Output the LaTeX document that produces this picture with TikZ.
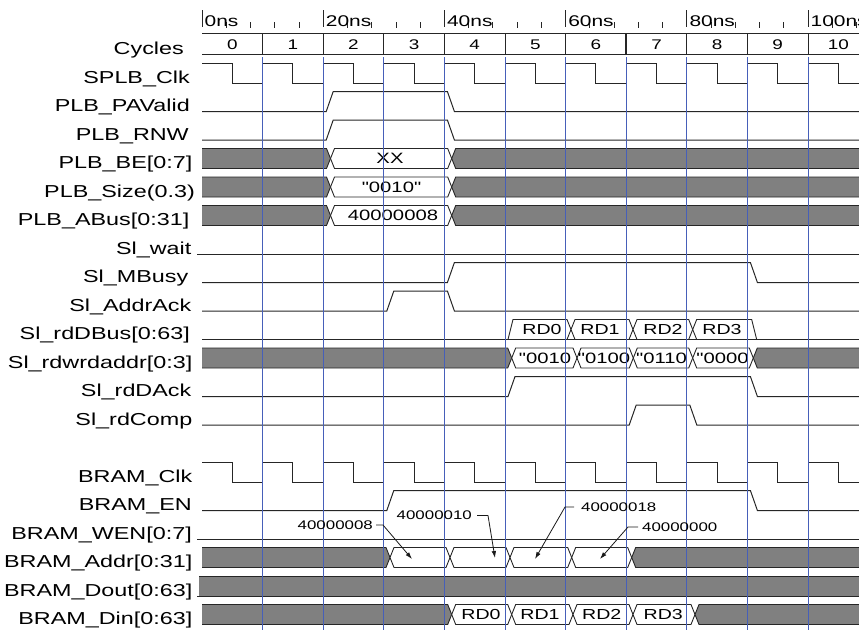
\documentclass[tikz,border=0pt]{standalone}
\usepackage{fontspec}
\setmainfont{Liberation Sans}
\usepackage{graphicx}
\usetikzlibrary{arrows.meta}
\newcommand\wide[1]{\scalebox{1.35}[1]{#1}}
\newcommand\qq{\XeTeXglyph\XeTeXcharglyph"22\relax}
\def\Tx#1{(202+60.6*(#1))}
\def\Ylo#1{(83+28.5*(#1))}
\def\Yhi#1{(63+28.5*(#1))}
\def\Ymi#1{(73+28.5*(#1))}
\definecolor{gridblue}{RGB}{70,95,185}
\definecolor{busgray}{RGB}{128,128,128}
\tikzset{
 sig/.style={line width=1pt, draw=black!85, line join=miter},
 bus/.style={line width=0.9pt, draw=black!85, fill=white},
 gbus/.style={line width=0.9pt, draw=black!85, fill=busgray},
 lbl/.style={anchor=base east, inner sep=0pt, font=\fontsize{17.3}{20}\selectfont},
 btxt/.style={anchor=base, inner sep=0pt, font=\fontsize{15}{18}\selectfont},
 rdtxt/.style={anchor=base, inner sep=0pt, font=\fontsize{14.5}{17}\selectfont},
 cyc/.style={anchor=center, inner sep=0pt, font=\fontsize{14}{16}\selectfont},
 tlab/.style={anchor=base west, inner sep=0pt, font=\fontsize{15.5}{18}\selectfont},
 ann/.style={inner sep=0pt, font=\fontsize{12.5}{15}\selectfont},
 lead/.style={line width=0.8pt, draw=black!90, -{Latex[length=7pt,width=4.5pt]}},
 tick/.style={line width=0.8pt, draw=black!85},
 gridline/.style={line width=0.8pt, draw=gridblue},
}
% digital pulse: row, rise cycle, fall cycle
\newcommand\pulse[3]{%
  \draw[sig] (202,{\Ylo{#1}}) -- ({\Tx{#2}+3},{\Ylo{#1}}) -- ({\Tx{#2}+10},{\Yhi{#1}})
    -- ({\Tx{#3}+3},{\Yhi{#1}}) -- ({\Tx{#3}+10},{\Ylo{#1}}) -- (859,{\Ylo{#1}});}
% white bus segment: row, c1, c2, name, text x, text
\newcommand\seg[6]{%
  \draw[bus] ({#2},{\Ymi{#1}}) -- ({#2+4},{\Yhi{#1}}) -- ({#3-4},{\Yhi{#1}}) -- ({#3},{\Ymi{#1}})
    -- ({#3-4},{\Ylo{#1}}) -- ({#2+4},{\Ylo{#1}}) -- cycle;
  \node[btxt] (#4) at ({#5},{\Ymi{#1}+5.4}) {\wide{#6}};}
\newcommand\rdseg[6]{%
  \draw[bus] ({#2},{\Ymi{#1}}) -- ({#2+4},{\Yhi{#1}}) -- ({#3-4},{\Yhi{#1}}) -- ({#3},{\Ymi{#1}})
    -- ({#3-4},{\Ylo{#1}}) -- ({#2+4},{\Ylo{#1}}) -- cycle;
  \node[rdtxt] (#4) at ({#5},{\Ymi{#1}+5.2}) {\wide{#6}};}
% grey bus start / end: row, crossing
\newcommand\gstart[2]{%
  \path[gbus] (202,{\Yhi{#1}}) -- ({#2-4},{\Yhi{#1}}) -- ({#2},{\Ymi{#1}}) -- ({#2-4},{\Ylo{#1}}) -- (202,{\Ylo{#1}});}
\newcommand\gend[2]{%
  \path[gbus] (859,{\Yhi{#1}}) -- ({#2+4},{\Yhi{#1}}) -- ({#2},{\Ymi{#1}}) -- ({#2+4},{\Ylo{#1}}) -- (859,{\Ylo{#1}});}
\newcommand\clk[1]{%
  \draw[sig] (202,{\Yhi{#1}}) \foreach \k in {0,...,9} { -- ({\Tx{\k+0.5}},{\Yhi{#1}}) -- ({\Tx{\k+0.5}},{\Ylo{#1}})
    -- ({\Tx{\k+1}},{\Ylo{#1}}) -- ({\Tx{\k+1}},{\Yhi{#1}}) } -- ({\Tx{10.5}},{\Yhi{#1}}) -- ({\Tx{10.5}},{\Ylo{#1}}) -- (859,{\Ylo{#1}});}

\begin{document}
\begin{tikzpicture}[x=1pt,y=-1pt]
\useasboundingbox (0,0) rectangle (859,630);

% time ruler
\foreach \m in {0,2,...,10} {
  \draw[tick] ({\Tx{\m}},10) -- ({\Tx{\m}},27);
  \foreach \j in {1,...,4} \draw[tick] ({\Tx{\m}+24.24*\j},22) -- ({\Tx{\m}+24.24*\j},27.5);
  \node[tlab] (tl\m) at ({\Tx{\m}+2.5},26.5) {\wide{\the\numexpr\m*10\relax ns}};
}

% cycles row
\draw[tick] (202,33) -- (859,33);
\draw[tick] (202,54.5) -- (859,54.5);
\foreach \k in {1,...,10} \draw[tick] ({\Tx{\k}},33) -- ({\Tx{\k}},54.5);
\draw[line width=1.6pt, draw=black!85] ({\Tx{7}},33) -- ({\Tx{7}},54.5);
\foreach \k in {0,...,10} \node[cyc] (c\k) at ({\Tx{\k+0.5}},44.5) {\wide{\k}};

% clocks
\clk{0}
\clk{14}

% pulses
\pulse{1}{2}{4}
\pulse{2}{2}{4}
\pulse{7}{4}{9}
\pulse{8}{3}{4}
\pulse{11}{5}{9}
\pulse{12}{7}{8}
\pulse{15}{3}{9}

% flat lines
\draw[sig] (197,{\Ylo{6}}) -- (859,{\Ylo{6}});
\draw[sig] (197,{\Ylo{16}}) -- (859,{\Ylo{16}});

% PLB buses
\gstart{3}{330.5} \seg{3}{330.5}{451.7}{be}{390}{XX} \gend{3}{451.7}
\gstart{4}{330.5} \seg{4}{330.5}{451.7}{sz}{391.5}{\qq0010\qq} \gend{4}{451.7}
\gstart{5}{330.5} \seg{5}{330.5}{451.7}{ab}{393}{40000008} \gend{5}{451.7}

% Sl_rdDBus
\draw[sig] (202,{\Ylo{9}}) -- (859,{\Ylo{9}});
\draw[bus] (508,{\Ylo{9}}) -- (513,{\Yhi{9}}) -- (567,{\Yhi{9}}) -- (571,{\Ymi{9}}) -- (567,{\Ylo{9}}) -- cycle;
\node[rdtxt] (rd0) at (542,{\Ymi{9}+5.2}) {\wide{RD0}};
\rdseg{9}{571}{633}{rd1}{600}{RD1}
\rdseg{9}{633}{692.7}{rd2}{663}{RD2}
\draw[bus] (692.7,{\Ymi{9}}) -- (696.7,{\Yhi{9}}) -- (751.7,{\Yhi{9}}) -- (756.7,{\Ylo{9}}) -- (696.7,{\Ylo{9}}) -- cycle;
\node[rdtxt] (rd3) at (722,{\Ymi{9}+5.2}) {\wide{RD3}};

% Sl_rdwrdaddr
\gstart{10}{511.7}
\seg{10}{511.7}{577}{w0}{545}{\qq0010}
\seg{10}{577}{633.3}{w1}{604}{\qq0100}
\seg{10}{633.3}{692.7}{w2}{661.5}{\qq0110}
\seg{10}{692.7}{753.3}{w3}{722.5}{\qq0000}
\gend{10}{753.3}

% BRAM_Addr
\gstart{17}{390}
\draw[bus] (390,{\Ymi{17}}) -- (394,{\Yhi{17}}) -- (446,{\Yhi{17}}) -- (450,{\Ymi{17}}) -- (446,{\Ylo{17}}) -- (394,{\Ylo{17}}) -- cycle;
\draw[bus] (450,{\Ymi{17}}) -- (454,{\Yhi{17}}) -- (506,{\Yhi{17}}) -- (510,{\Ymi{17}}) -- (506,{\Ylo{17}}) -- (454,{\Ylo{17}}) -- cycle;
\draw[bus] (510,{\Ymi{17}}) -- (514,{\Yhi{17}}) -- (567.7,{\Yhi{17}}) -- (571.7,{\Ymi{17}}) -- (567.7,{\Ylo{17}}) -- (514,{\Ylo{17}}) -- cycle;
\draw[bus] (571.7,{\Ymi{17}}) -- (575.7,{\Yhi{17}}) -- (627.7,{\Yhi{17}}) -- (631.7,{\Ymi{17}}) -- (627.7,{\Ylo{17}}) -- (575.7,{\Ylo{17}}) -- cycle;
\gend{17}{631.7}

% BRAM_Dout
\fill[busgray] (199,{\Yhi{18}}) rectangle (859,{\Ylo{18}});
\draw[sig] (199,{\Yhi{18}}) -- (859,{\Yhi{18}});
\draw[sig] (197,{\Ylo{18}}) -- (859,{\Ylo{18}});

% BRAM_Din
\gstart{19}{451.7}
\rdseg{19}{451.7}{511.7}{d0}{481}{RD0}
\rdseg{19}{511.7}{573}{d1}{540}{RD1}
\rdseg{19}{573}{633}{d2}{601.7}{RD2}
\rdseg{19}{633}{695}{d3}{663.3}{RD3}
\gend{19}{695}

% cycle grid lines
\foreach \k in {1,...,10} \draw[gridline] ({\Tx{\k}},57) -- ({\Tx{\k}},630);

% annotations
\node[ann, anchor=east] (a1) at (373,525) {\wide{40000008}};
\node[ann, anchor=east] (a2) at (472,515.5) {\wide{40000010}};
\node[ann, anchor=west] (a3) at (581,507) {\wide{40000018}};
\node[ann, anchor=west] (a4) at (642,527) {\wide{40000000}};
\coordinate (a1b) at (383,525);   \coordinate (a1t) at (412,559);
\coordinate (a2b) at (488,515.5); \coordinate (a2t) at (495,558);
\coordinate (a3b) at (565,507);   \coordinate (a3t) at (535,559);
\coordinate (a4b) at (628,527);   \coordinate (a4t) at (600,559);
\draw[lead] ([xshift=3pt]a1.east) -- (a1b) -- (a1t);
\draw[lead] ([xshift=5pt]a2.east) -- (a2b) -- (a2t);
\draw[lead] ([xshift=-7pt]a3.west) -- (a3b) -- (a3t);
\draw[lead] ([xshift=-4pt]a4.west) -- (a4b) -- (a4t);

% labels
\node[lbl] (lcyc) at (184,54) {\wide{Cycles}};
\node[lbl] (l0) at (190,{\Ylo{0}}) {\wide{SPLB\_Clk}};
\node[lbl] (l1) at (190,{\Ylo{1}}) {\wide{PLB\_PAValid}};
\node[lbl] (l2) at (189,{\Ylo{2}}) {\wide{PLB\_RNW}};
\node[lbl] (l3) at (192.5,{\Ylo{3}}) {\wide{PLB\_BE[0:7]}};
\node[lbl] (l4) at (195,{\Ylo{4}}) {\wide{PLB\_Size(0.3)}};
\node[lbl] (l5) at (189.5,{\Ylo{5}}) {\wide{PLB\_ABus[0:31]}};
\node[lbl] (l6) at (191.5,{\Ylo{6}}) {\wide{Sl\_wait}};
\node[lbl] (l7) at (188.5,{\Ylo{7}}) {\wide{Sl\_MBusy}};
\node[lbl] (l8) at (191.5,{\Ylo{8}}) {\wide{Sl\_AddrAck}};
\node[lbl] (l9) at (190,{\Ylo{9}}) {\wide{Sl\_rdDBus[0:63]}};
\node[lbl] (l10) at (192.5,{\Ylo{10}}) {\wide{Sl\_rdwrdaddr[0:3]}};
\node[lbl] (l11) at (191.5,{\Ylo{11}}) {\wide{Sl\_rdDAck}};
\node[lbl] (l12) at (192.5,{\Ylo{12}}) {\wide{Sl\_rdComp}};
\node[lbl] (l14) at (192.5,{\Ylo{14}}) {\wide{BRAM\_Clk}};
\node[lbl] (l15) at (192,{\Ylo{15}}) {\wide{BRAM\_EN}};
\node[lbl] (l16) at (192,{\Ylo{16}}) {\wide{BRAM\_WEN[0:7]}};
\node[lbl] (l17) at (192.5,{\Ylo{17}}) {\wide{BRAM\_Addr[0:31]}};
\node[lbl] (l18) at (192.5,{\Ylo{18}}) {\wide{BRAM\_Dout[0:63]}};
\node[lbl] (l19) at (192.5,{\Ylo{19}}) {\wide{BRAM\_Din[0:63]}};
\end{tikzpicture}
\end{document}
